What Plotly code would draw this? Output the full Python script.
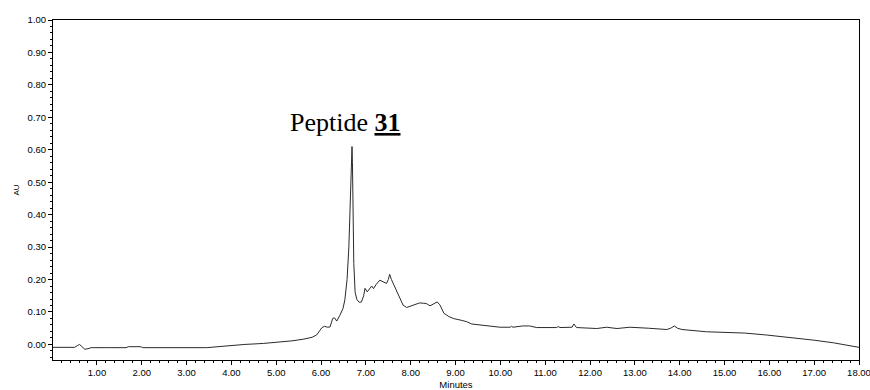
import plotly.graph_objects as go

# Chromatogram trace: retention time (min) vs absorbance (AU)
minutes = [
    0.02, 0.50, 0.56, 0.61, 0.66, 0.73, 0.80, 0.87, 1.20, 1.65, 1.70, 1.98, 2.02,
    3.45, 3.70, 3.96, 4.30, 4.71, 5.08, 5.35, 5.60, 5.80, 5.90, 5.96, 6.02, 6.08,
    6.14, 6.20, 6.26, 6.30, 6.35, 6.42, 6.49, 6.53, 6.58, 6.62, 6.65, 6.675, 6.69,
    6.70, 6.715, 6.73, 6.76, 6.80, 6.85, 6.90, 6.95, 6.98, 7.03, 7.08, 7.13, 7.17,
    7.23, 7.31, 7.38, 7.46, 7.50, 7.53, 7.57, 7.61, 7.66, 7.72, 7.78, 7.83, 7.91,
    7.98, 8.06, 8.20, 8.28, 8.35, 8.43, 8.50, 8.59, 8.65, 8.70, 8.74, 8.85, 8.95,
    9.14, 9.25, 9.36, 9.55, 9.73, 9.99, 10.22, 10.25, 10.28, 10.50, 10.65, 10.81,
    11.25, 11.29, 11.33, 11.60, 11.64, 11.70, 12.15, 12.37, 12.60, 12.89, 13.30,
    13.71, 13.80, 13.88, 13.95, 14.05, 14.60, 15.00, 15.30, 15.38, 15.45, 15.94,
    16.30, 16.69, 17.00, 17.43, 17.70, 18.00,
]
absorbance = [
    -0.009, -0.009, -0.004, 0.000, -0.006, -0.015, -0.013, -0.010, -0.010, -0.010,
    -0.007, -0.007, -0.010, -0.010, -0.007, -0.003, 0.000, 0.003, 0.007, 0.011,
    0.016, 0.022, 0.029, 0.040, 0.052, 0.056, 0.053, 0.054, 0.080, 0.082, 0.072,
    0.090, 0.111, 0.137, 0.200, 0.300, 0.450, 0.580, 0.610, 0.560, 0.400, 0.250,
    0.160, 0.138, 0.130, 0.131, 0.150, 0.173, 0.162, 0.172, 0.180, 0.172, 0.185,
    0.198, 0.193, 0.188, 0.200, 0.216, 0.200, 0.188, 0.170, 0.152, 0.133, 0.121,
    0.114, 0.117, 0.121, 0.128, 0.127, 0.126, 0.119, 0.125, 0.131, 0.122, 0.105,
    0.096, 0.086, 0.080, 0.074, 0.070, 0.063, 0.060, 0.057, 0.053, 0.053, 0.056,
    0.053, 0.057, 0.057, 0.052, 0.052, 0.055, 0.052, 0.053, 0.063, 0.052, 0.049,
    0.053, 0.049, 0.053, 0.050, 0.046, 0.050, 0.057, 0.050, 0.046, 0.039, 0.038,
    0.035, 0.037, 0.035, 0.029, 0.024, 0.018, 0.013, 0.005, -0.001, -0.009,
]

peak_label = "Peptide <b><u>31</u></b>"
peak_label_pos = (6.55, 0.685)

tick_font = dict(family="Liberation Sans, Arial, sans-serif", size=9.5, color="black")

fig = go.Figure()
fig.add_trace(go.Scatter(
    x=minutes, y=absorbance, mode="lines",
    line=dict(color="#2b2b2b", width=1),
    hoverinfo="skip", showlegend=False,
))

fig.add_annotation(
    x=peak_label_pos[0], y=peak_label_pos[1], xref="x", yref="y",
    text=peak_label, showarrow=False,
    font=dict(family="Liberation Serif, Times New Roman, serif", size=26, color="black"),
    xanchor="center", yanchor="middle",
)

fig.update_layout(
    width=870, height=390,
    margin=dict(l=53, r=11, t=20, b=30),
    paper_bgcolor="white", plot_bgcolor="white",
    xaxis=dict(
        range=[0.02, 18.0], tick0=1, dtick=1, tickformat=".2f",
        ticks="outside", ticklen=4, tickwidth=1, tickcolor="black",
        minor=dict(dtick=0.2, tick0=0, ticks="outside", ticklen=2, tickcolor="black"),
        showline=True, linecolor="black", linewidth=1, mirror=True,
        showgrid=False, zeroline=False, tickfont=tick_font,
        ticklabeloverflow="allow",
        title=dict(text="Minutes", font=tick_font, standoff=3),
        automargin=False,
    ),
    yaxis=dict(
        range=[-0.048, 1.0], tick0=0, dtick=0.1, tickformat=".2f",
        ticks="outside", ticklen=4, tickwidth=1, tickcolor="black",
        minor=dict(dtick=0.02, tick0=0, ticks="outside", ticklen=2, tickcolor="black"),
        showline=True, linecolor="black", linewidth=1, mirror=True,
        showgrid=False, zeroline=False, tickfont=tick_font,
        title=dict(text="AU", font=dict(family="Liberation Sans, Arial, sans-serif", size=8, color="black"), standoff=6),
        automargin=False,
    ),
)

fig.write_html("out.html")
